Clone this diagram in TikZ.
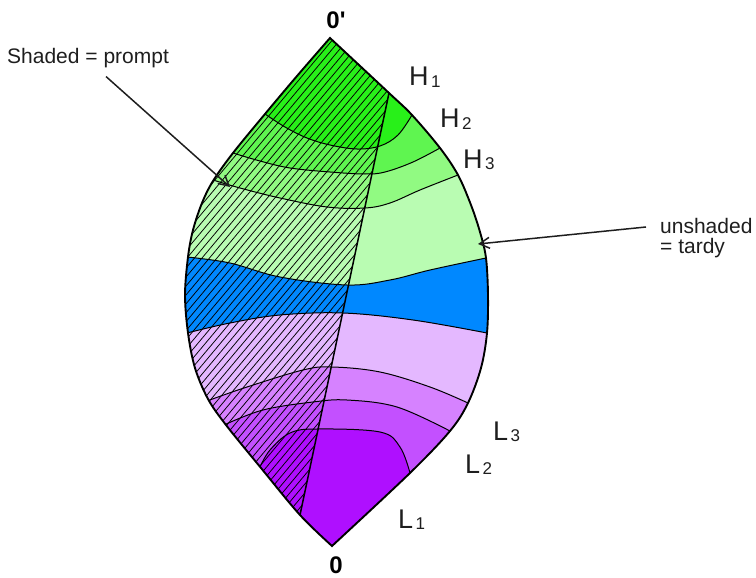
\documentclass[tikz,border=0pt]{standalone}
\usepackage{fontspec}
\setmainfont{Liberation Sans}
\usetikzlibrary{arrows.meta}
\definecolor{cHa}{RGB}{40,240,25}
\definecolor{cHb}{RGB}{95,245,80}
\definecolor{cHc}{RGB}{145,250,130}
\definecolor{cHd}{RGB}{185,252,178}
\definecolor{cBl}{RGB}{0,136,255}
\definecolor{cLd}{RGB}{228,184,255}
\definecolor{cLc}{RGB}{214,130,255}
\definecolor{cLb}{RGB}{195,80,255}
\definecolor{cLa}{RGB}{175,15,255}
\definecolor{ink}{RGB}{30,30,30}
\tikzset{
  band/.style={line width=1pt, black},
  arr/.style={line width=1.5pt, ink, -{Straight Barb[length=10pt,width=11pt,line width=1.5pt]}},
  lab/.style={anchor=base west, inner sep=0pt, text=ink, font=\fontsize{27}{27}\selectfont},
  txt/.style={anchor=base west, inner sep=0pt, text=ink, font=\fontsize{21}{21}\selectfont},
  apexlab/.style={anchor=base, inner sep=0pt, text=black, font=\fontsize{24}{24}\selectfont\bfseries}
}
\newcommand{\subnum}[1]{\hspace{2.5pt}\raisebox{-1.5pt}{\fontsize{17}{17}\selectfont #1}}
\def\outl{(330,38) -- plot[smooth,tension=0.55] coordinates {(330,38) (389,93) (412,115) (440,148) (458,175) (471,205) (480,232) (486,258) (488,295) (487,333) (481,368) (468,403) (450,431) (410,473) (332,546)} -- plot[smooth,tension=0.55] coordinates {(332,546) (300,515) (261,468) (226,425) (208,399) (195,368) (188,333) (185,295) (188,257) (193,230) (202,203) (213,181) (233,153) (265,114) (297,76) (330,38)} -- cycle}
\begin{document}
\begin{tikzpicture}[x=1pt,y=-1pt]
\useasboundingbox (0,0) rectangle (756,578);
% ---------- coloured bands ----------
\begin{scope}
\clip \outl;
\fill[cLa] (100,0) rectangle (600,600);
\fill[cLb] (100,467) -- plot[smooth,tension=0.6] coordinates {(260,467) (270,450) (290,433) (317,429) (380,432) (400,447) (410,473)} -- (600,473) -- (600,0) -- (100,0) -- cycle;
\fill[cLc] (100,425) -- plot[smooth,tension=0.6] coordinates {(224,425) (263,410) (313,402) (347,400) (397,407) (450,431)} -- (600,431) -- (600,0) -- (100,0) -- cycle;
\fill[cLd] (100,401) -- plot[smooth,tension=0.6] coordinates {(207,401) (247,387) (303,370) (332,367) (380,372) (430,387) (468,403)} -- (600,403) -- (600,0) -- (100,0) -- cycle;
\fill[cBl] (100,333) -- plot[smooth,tension=0.6] coordinates {(187,333) (230,323) (280,315) (343,313) (413,320) (487,333)} -- (600,333) -- (600,0) -- (100,0) -- cycle;
\fill[cHd] (100,257) -- plot[smooth,tension=0.6] coordinates {(187,257) (230,263) (280,277) (347,285) (390,280) (430,270) (486,258)} -- (600,258) -- (600,0) -- (100,0) -- cycle;
\fill[cHc] (100,180) -- plot[smooth,tension=0.6] coordinates {(213,180) (240,188) (280,198) (327,207) (365,208) (390,203) (420,190) (458,175)} -- (600,175) -- (600,0) -- (100,0) -- cycle;
\fill[cHb] (100,153) -- plot[smooth,tension=0.6] coordinates {(233,153) (260,161) (290,168) (330,172) (365,174) (385,172) (413,162) (440,148)} -- (600,148) -- (600,0) -- (100,0) -- cycle;
\fill[cHa] (100,114) -- plot[smooth,tension=0.6] coordinates {(265,114) (285,127) (307,138) (330,145) (357,149) (380,146) (398,135) (412,115)} -- (600,115) -- (600,0) -- (100,0) -- cycle;
% band boundaries
\draw[band] (255,467) -- plot[smooth,tension=0.6] coordinates {(260,467) (270,450) (290,433) (317,429) (380,432) (400,447) (410,473)} -- (412,478);
\draw[band] (218,425) -- plot[smooth,tension=0.6] coordinates {(224,425) (263,410) (313,402) (347,400) (397,407) (450,431)} -- (456,434);
\draw[band] (200,404) -- plot[smooth,tension=0.6] coordinates {(207,401) (247,387) (303,370) (332,367) (380,372) (430,387) (468,403)} -- (475,406);
\draw[band] (180,334) -- plot[smooth,tension=0.6] coordinates {(187,333) (230,323) (280,315) (343,313) (413,320) (487,333)} -- (494,334);
\draw[band] (180,256) -- plot[smooth,tension=0.6] coordinates {(187,257) (230,263) (280,277) (347,285) (390,280) (430,270) (486,258)} -- (494,256);
\draw[band] (206,178) -- plot[smooth,tension=0.6] coordinates {(213,180) (240,188) (280,198) (327,207) (365,208) (390,203) (420,190) (458,175)} -- (466,172);
\draw[band] (226,151) -- plot[smooth,tension=0.6] coordinates {(233,153) (260,161) (290,168) (330,172) (365,174) (385,172) (413,162) (440,148)} -- (447,144);
\draw[band] (259,110) -- plot[smooth,tension=0.6] coordinates {(265,114) (285,127) (307,138) (330,145) (357,149) (380,146) (398,135) (412,115)} -- (416,109);
% hatching on the left (prompt) side
\begin{scope}
\clip (408.6,0) -- (282,600) -- (0,600) -- (0,0) -- cycle;
\foreach \i in {-310,-302.5,...,350}{
  \draw[line width=0.75pt, black] (\i,600) -- ({\i+503.5},0);
}
\end{scope}
\end{scope}
% dividing line and outline
\draw[line width=1.5pt] (389,93) -- (300,515);
\draw[line width=1.9pt, line join=miter] \outl;
% ---------- labels ----------
\node[apexlab] (top) at (336,29) {0\textquotesingle};
\node[apexlab] (bot) at (336,573) {0};
\node[lab] (h1) at (409,86) {H\subnum{1}};
\node[lab] (h2) at (440,128) {H\subnum{2}};
\node[lab] (h3) at (463,168) {H\subnum{3}};
\node[lab] (l3) at (493,440) {L\subnum{3}};
\node[lab] (l2) at (465,473) {L\subnum{2}};
\node[lab] (l1) at (398,528) {L\subnum{1}};
\node[txt] (shaded) at (7,64) {Shaded = prompt};
\node[txt] (uns) at (660,233) {unshaded};
\node[txt] (tardy) at (660,253) {= tardy};
\coordinate (sTip) at (230,187);
\coordinate (uTip) at (478,244);
\draw[arr] ([xshift=18pt,yshift=-8pt]shaded.south) -- (sTip);
\draw[arr] ([xshift=-14pt,yshift=-1.5pt]uns.west) -- (uTip);
\end{tikzpicture}
\end{document}
